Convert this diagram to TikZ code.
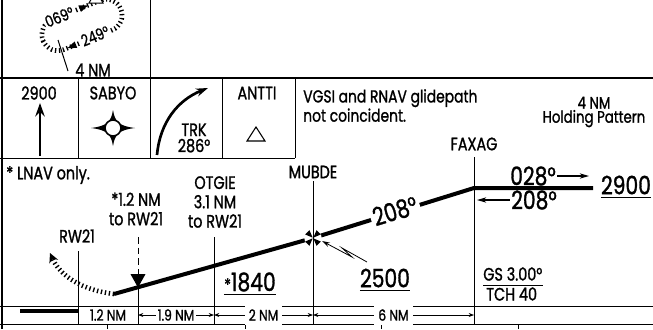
\documentclass[tikz,border=0pt]{standalone}
\usepackage{fontspec}
\setmainfont{Poppins}[FakeStretch=0.8,FakeBold=1.2]
\usetikzlibrary{arrows.meta}

\begin{document}
\begin{tikzpicture}[x=0.75pt,y=-0.75pt,
  box/.style={line width=0.75pt},
  heavy/.style={line width=1.5pt},
  lbl/.style={inner sep=0pt,font=\fontsize{13.5}{14.5}\selectfont},
  big/.style={inner sep=0pt,font=\fontsize{19}{20}\selectfont},
  small/.style={inner sep=0pt,font=\fontsize{11.5}{12}\selectfont},
  course/.style={line width=3pt},
  hash/.style={line width=3.5pt,dash pattern=on 1pt off 2pt},
  ptr/.style={line width=1pt,-{Stealth[length=7pt,width=4pt]}},
  dist/.style={line width=0.5pt,{Stealth[length=4pt,width=3pt]}-{Stealth[length=4pt,width=3pt]}}]
\useasboundingbox (0,0) rectangle (653,329);
\clip (0,0) rectangle (653,329);

% Frame of the chart
\draw[heavy] (2,0) -- (2,329);
\draw[heavy] (0,78) -- (653,78);
\draw[box] (150,0) -- (150,78);
\draw[box] (0,158) -- (295,158);
\foreach \x in {78,150,222,295}
  \draw[box] (\x,78) -- (\x,158);
\draw[box] (0,306) -- (653,306);
\draw[box] (0,324) -- (653,324);
\foreach \x in {107,245,381,518}
  \draw[box] (\x,324) -- (\x,329);

% Holding pattern
\begin{scope}[shift={(82,25)},rotate=22]
  \draw[hash,rounded corners=12pt] (-42,-16) rectangle (42,16);
  \node[small,font=\fontsize{12}{12}\selectfont,fill=white,inner sep=1pt,rotate=22] (hin) at (-18,-16) {069°};
  \node[small,font=\fontsize{12}{12}\selectfont,fill=white,inner sep=1pt,rotate=22] (hout) at (8,15) {249°};
  \fill (13,-16) -- ++(-9,-3.5) -- ++(0,7) -- cycle;
  \fill (-22,16) -- ++(9,-3.5) -- ++(0,7) -- cycle;
\end{scope}
\draw[box,fill=white] (89,3) -- (103,3) -- (96,-9) -- cycle;
\coordinate (hmark) at (58,40);
\coordinate (hmarkend) at (68,71);
\draw[box] (hmark) -- (hmarkend);
\node[lbl] (hlen) at (93,70) {4 NM};

% Row of boxes
\node[lbl] (alt1) at (39,93) {2900};
\coordinate (alt1base) at (40,156);
\coordinate (alt1tip) at (40,103);
\draw[line width=2pt,-{Stealth[length=10pt,width=7pt]}] (alt1base) -- (alt1tip);
\node[lbl] (sabyo) at (113,93) {SABYO};
\fill (113,110) .. controls (115,122) and (119,126) .. (135,128)
  .. controls (119,130) and (115,134) .. (113,146)
  .. controls (111,134) and (107,130) .. (91,128)
  .. controls (107,126) and (111,122) .. cycle;
\draw[line width=1.2pt,fill=white] (113,128) circle (6pt);
\coordinate (trkfrom) at (157,155);
\coordinate (trkto) at (208,88);
\draw[line width=2pt,-{Stealth[length=9pt,width=6pt]}] (trkfrom) .. controls (160,122) and (178,100) .. (trkto);
\node[lbl,font=\fontsize{13.5}{12}\selectfont,align=center] (trk) at (194,138) {TRK\\286°};
\node[lbl] (antti) at (257,93) {ANTTI};
\draw[line width=0.8pt] (247,141) -- (265,141) -- (256,127) -- cycle;
\node[lbl,font=\fontsize{13}{9}\selectfont,align=left,anchor=north west] (note) at (303,89) {VGSI and RNAV glidepath\\not coincident.};
\node[lbl,font=\fontsize{12.5}{10.5}\selectfont,align=center] (holdnote) at (594,112) {4 NM\\Holding Pattern};

% Fix names
\node[lbl] (faxagl) at (474,144) {FAXAG};
\node[lbl] (mubdel) at (313,172) {MUBDE};
\node[lbl,align=center] (otgiel) at (215,202) {OTGIE\\3.1 NM\\to RW21};
\node[lbl,align=center] (sdfl) at (136,209) {*1.2 NM\\to RW21};
\node[lbl] (rwl) at (77,236) {RW21};
\node[lbl,anchor=west] (lnav) at (6,175) {* LNAV only.};

% Profile points
\coordinate (rowbot) at (0,324);
\coordinate (rowmid) at (0,315);
\coordinate (rwtop) at (78,251);
\coordinate (sdftop) at (138,237);
\coordinate (sdf) at (138,287.5);
\coordinate (otgie) at (214,237);
\coordinate (mubdetop) at (313,181);
\coordinate (mubde) at (313,238);
\coordinate (faxagtop) at (474,157);
\coordinate (faxag) at (474,188);
\coordinate (mapt) at (114,294);
\coordinate (fafend) at (593,188);
\coordinate (matip) at (50,253);

% Missed approach and final course
\draw[hash,-{Stealth[length=7pt,width=7pt]}] (mapt) .. controls (82,290) and (60,276) .. (matip);
\draw[course] (mapt) -- (mubde) -- (faxag) -- (fafend);
\node[big,fill=white,inner sep=2pt,rotate=17] (crs) at (395,211) {208°};

% Fix lines down to the distance row
\draw[box] (rwtop) -- (rwtop |- rowbot);
\draw[box,dash pattern=on 5pt off 3pt,-{Triangle[length=10pt,width=11pt]}] (sdftop) -- (sdf);
\draw[box] (sdf) -- (sdf |- rowbot);
\draw[box] (otgie) -- (otgie |- rowbot);
\fill[white] (mubde) circle (6.5pt);
\draw[box] (mubdetop) -- (mubdetop |- rowbot);
\draw[box] (faxagtop) -- (faxagtop |- rowbot);
\foreach \a in {45,135,225,315}
  \fill[shift={(mubde)},rotate=\a] (0.5,0) -- (8,-3) -- (8,3) -- cycle;

% Altitudes
\node[big] (alt2) at (385,278) {2500};
\draw[box] ([yshift=-2pt]alt2.south west) -- ([yshift=-2pt]alt2.south east);
\coordinate (ld1) at (367,262);
\coordinate (ld2) at (342,248);
\coordinate (ld3) at (352,257);
\coordinate (ldtip) at (322,241);
\draw[line width=0.6pt,-{Stealth[length=6pt,width=3.5pt]}] (ld1) -- (ld2) -- (ld3) -- (ldtip);
\node[big] (alt3) at (250,282) {{\fontsize{13}{13}\selectfont*}1840};
\draw[box] ([yshift=-2pt]alt3.south west) -- ([yshift=-2pt]alt3.south east);
\node[big] (outb) at (533,176) {028°};
\coordinate (outtip) at (589,176);
\draw[ptr] ([xshift=1pt]outb.east) -- (outtip);
\node[big] (inb) at (534,200) {208°};
\coordinate (intip) at (477,200);
\draw[ptr] ([xshift=-1pt]inb.west) -- (intip);
\node[big] (fafalt) at (626,185) {2900};
\draw[box] ([yshift=-2pt]fafalt.south west) -- ([yshift=-2pt]fafalt.south east);
\node[lbl,anchor=west] (gs) at (483,274) {GS 3.00°};
\node[lbl,anchor=west] (tch) at (486,294) {TCH 40};
\draw[box] ([yshift=-3.5pt]gs.south west) -- ([yshift=-3.5pt]gs.south east);

% Distance row
\fill (20,309) rectangle (78,313);
\node[small] (d12) at (108,315) {1.2 NM};
\draw[dist] (sdf |- rowmid) -- node[small,fill=white,inner sep=1.5pt] (d19) {1.9 NM} (otgie |- rowmid);
\draw[dist] (otgie |- rowmid) -- node[small,fill=white,inner sep=3pt] (d2) {2 NM} (mubde |- rowmid);
\draw[dist] (mubde |- rowmid) -- node[small,fill=white,inner sep=3pt] (d6) {6 NM} (faxag |- rowmid);

\end{tikzpicture}
\end{document}
